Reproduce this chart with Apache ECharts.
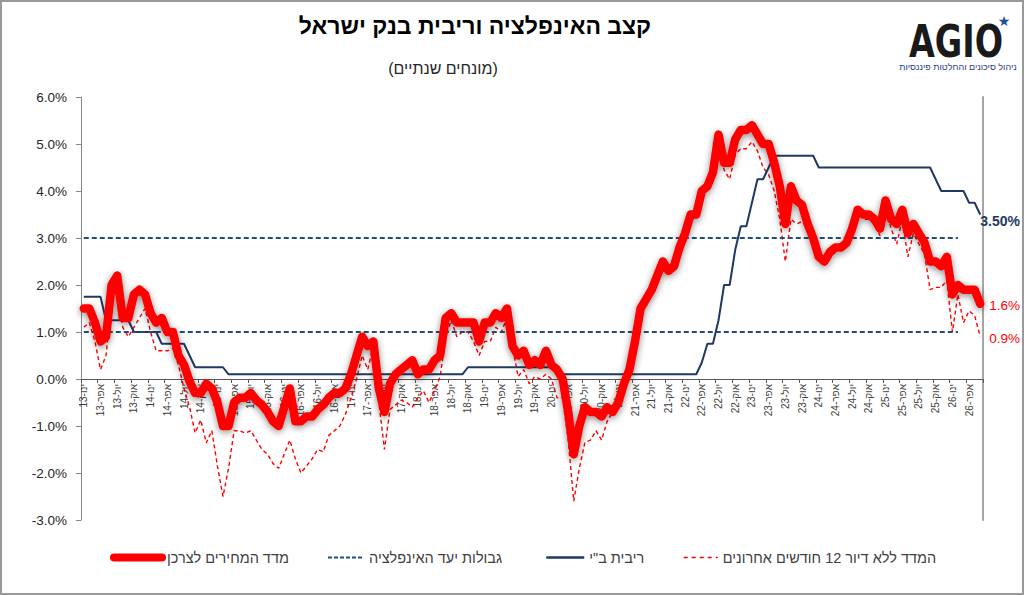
<!DOCTYPE html>
<html><head><meta charset="utf-8">
<script src="https://cdn.jsdelivr.net/npm/echarts@6/dist/echarts.min.js"></script>
<style>html,body{margin:0;padding:0;background:#fff}#c{width:1024px;height:595px}</style>
</head><body><div id="c"></div>
<script>
// ---- data ----
const monthNames = ['ינו','פבר','מרץ','אפר','מאי','יונ','יול','אוג','ספט','אוק','נוב','דצמ'];
const startYear = 13; // 2013

// CPI, yearly change (%), monthly Jan-2013 .. Jun-2026
const cpi = [
  1.5, 1.5, 1.2, 0.8, 0.9, 2.0, 2.2, 1.3, 1.3, 1.8, 1.9, 1.8,
  1.4, 1.2, 1.3, 1.0, 1.0, 0.5, 0.3, -0.05, -0.3, -0.3, -0.1, -0.2,
  -0.5, -1.0, -1.0, -0.5, -0.4, -0.4, -0.3, -0.45, -0.55, -0.7, -0.9, -1.0,
  -0.6, -0.2, -0.9, -0.9, -0.8, -0.8, -0.65, -0.55, -0.4, -0.3, -0.3, -0.2,
  0.1, 0.5, 0.9, 0.7, 0.8, -0.2, -0.7, -0.1, 0.1, 0.2, 0.3, 0.4,
  0.1, 0.2, 0.2, 0.4, 0.5, 1.3, 1.4, 1.2, 1.2, 1.2, 1.2, 0.8,
  1.2, 1.2, 1.4, 1.3, 1.5, 0.7, 0.5, 0.6, 0.3, 0.4, 0.3, 0.6,
  0.3, 0.2, 0.0, -0.7, -1.6, -1.0, -0.6, -0.7, -0.7, -0.8, -0.6, -0.7,
  -0.5, -0.1, 0.2, 0.8, 1.5, 1.7, 1.9, 2.2, 2.5, 2.3, 2.4, 2.8,
  3.1, 3.5, 3.5, 4.0, 4.1, 4.4, 5.2, 4.6, 4.6, 5.1, 5.3, 5.3,
  5.4, 5.2, 5.0, 5.0, 4.6, 4.1, 3.3, 4.1, 3.8, 3.7, 3.3, 3.0,
  2.6, 2.5, 2.7, 2.8, 2.8, 2.9, 3.2, 3.6, 3.5, 3.5, 3.4, 3.2,
  3.8, 3.4, 3.3, 3.6, 3.1, 3.3, 3.1, 2.9, 2.5, 2.5, 2.4, 2.6,
  1.8, 2.0, 1.9, 1.9, 1.9, 1.6
];

// CPI excluding housing, last 12 months (%)
const cpiExHousing = [
  1.1, 1.2, 0.8, 0.2, 0.5, 1.7, 1.9, 1.1, 0.9, 1.1, 1.3, 1.5,
  1.0, 0.6, 0.6, 0.6, 0.65, 0.3, -0.2, -0.6, -1.15, -0.87, -1.36, -1.1,
  -1.85, -2.5, -1.9, -1.1, -1.1, -1.15, -1.1, -1.3, -1.5, -1.6, -1.8, -1.9,
  -1.6, -1.3, -1.7, -2.0, -1.85, -1.7, -1.5, -1.55, -1.2, -1.1, -1.0, -0.75,
  -0.4, 0.0, 0.5, 0.2, 0.7, -0.5, -1.5, -0.65, -0.55, -0.45, -0.5, -0.6,
  -0.4, -0.25, -0.5, -0.25, 0.05, 0.9, 1.25, 0.9, 1.0, 1.0, 0.8, 0.5,
  0.8, 0.8, 1.1, 1.0, 1.3, 0.7, 0.05, 0.2, -0.1, 0.05, 0.0, 0.1,
  0.0, -0.4, -0.4, -1.3, -2.6, -1.9, -1.35, -1.3, -1.1, -1.3, -0.9, -0.7,
  -0.5, -0.2, 0.1, 0.8, 1.4, 1.7, 2.1, 2.3, 2.45, 2.3, 2.4, 2.65,
  3.0, 3.55, 3.5, 4.0, 4.2, 4.35, 5.0, 4.45, 4.25, 4.77, 4.9, 4.9,
  5.05, 4.85, 4.5, 4.35, 4.0, 3.4, 2.5, 3.4, 3.3, 3.35, 3.2, 2.9,
  2.6, 2.4, 2.6, 2.7, 2.8, 2.9, 3.35, 3.57, 3.4, 3.4, 3.3, 3.05,
  3.65, 3.2, 2.87, 3.4, 2.6, 3.1, 2.87, 2.65, 1.9, 1.95, 1.95, 2.1,
  1.0, 1.8, 1.2, 1.45, 1.35, 0.9
];

// Bank of Israel rate (%)
const boiRate = [
  1.75, 1.75, 1.75, 1.75, 1.25, 1.25, 1.25, 1.25, 1.25, 1.0, 1.0, 1.0,
  1.0, 1.0, 0.75, 0.75, 0.75, 0.75, 0.75, 0.5, 0.25, 0.25, 0.25, 0.25,
  0.25, 0.25, 0.1, 0.1, 0.1, 0.1, 0.1, 0.1, 0.1, 0.1, 0.1, 0.1,
  0.1, 0.1, 0.1, 0.1, 0.1, 0.1, 0.1, 0.1, 0.1, 0.1, 0.1, 0.1,
  0.1, 0.1, 0.1, 0.1, 0.1, 0.1, 0.1, 0.1, 0.1, 0.1, 0.1, 0.1,
  0.1, 0.1, 0.1, 0.1, 0.1, 0.1, 0.1, 0.1, 0.1, 0.25, 0.25, 0.25,
  0.25, 0.25, 0.25, 0.25, 0.25, 0.25, 0.25, 0.25, 0.25, 0.25, 0.25, 0.25,
  0.25, 0.25, 0.1, 0.1, 0.1, 0.1, 0.1, 0.1, 0.1, 0.1, 0.1, 0.1,
  0.1, 0.1, 0.1, 0.1, 0.1, 0.1, 0.1, 0.1, 0.1, 0.1, 0.1, 0.1,
  0.1, 0.1, 0.1, 0.35, 0.75, 0.75, 1.25, 2.0, 2.0, 2.75, 3.25, 3.25,
  3.75, 4.25, 4.25, 4.5, 4.75, 4.75, 4.75, 4.75, 4.75, 4.75, 4.75, 4.75,
  4.5, 4.5, 4.5, 4.5, 4.5, 4.5, 4.5, 4.5, 4.5, 4.5, 4.5, 4.5,
  4.5, 4.5, 4.5, 4.5, 4.5, 4.5, 4.5, 4.5, 4.5, 4.25, 4.0, 4.0,
  4.0, 4.0, 4.0, 3.75, 3.75, 3.5
];

// Inflation target band (%), drawn from first month to index targetEndIndex
const targetBand = [1, 3];
const targetEndIndex = 157;

const yAxisRange = [-3, 6];

const seriesNames = ['מדד המחירים לצרכן', 'גבולות יעד האינפלציה', 'ריבית ב"י', 'המדד ללא דיור 12 חודשים אחרונים'];

// ---- build ----
const categories = cpi.map((_, k) => monthNames[k % 12] + '-' + (startYear + Math.floor(k / 12)));

const chart = echarts.init(document.getElementById('c'), null, { renderer: 'svg' });
const FONT = 'Liberation Sans, Arial, sans-serif';
const RED = '#ff0000', NAVY = '#1f3864', BLUE_D = '#1f4e79';

const legendBase = (left, name, lineStyle, w) => ({
  show: true, orient: 'horizontal', padding: 0,
  left: left, top: 550, itemWidth: w, itemHeight: 14,
  itemGap: 0,
  textStyle: { fontFamily: FONT, fontSize: 14.5, color: '#404040' },
  data: [{ name: name, lineStyle: lineStyle, itemStyle: { opacity: 0 } }],
  selectedMode: false
});

chart.setOption({
  animation: false,
  backgroundColor: '#fff',
  textStyle: { fontFamily: FONT },
  grid: { left: 81, right: 41, top: 97, bottom: 75, containLabel: false },
  graphic: [
    { type: 'rect', shape: { x: 1, y: 1, width: 1022, height: 593 }, style: { fill: 'none', stroke: '#9a9a9a', lineWidth: 2 }, silent: true },
    { type: 'text', x: 475, y: 26, style: { text: 'קצב האינפלציה וריבית בנק ישראל', fontSize: 23, fontWeight: 'bold', fontFamily: FONT, fill: '#000', align: 'center', verticalAlign: 'middle' } },
    { type: 'text', x: 443, y: 68, style: { text: '(מונחים שנתיים)', fontSize: 16, fontFamily: FONT, fill: '#262626', align: 'center', verticalAlign: 'middle' } },
    { type: 'text', x: 956, y: 42, scaleX: 0.76, originX: 0, originY: 0, style: { text: 'AGIO', fontSize: 44, fontWeight: 'bold', fontFamily: 'DejaVu Sans, sans-serif', fill: '#1a1a1a', align: 'center', verticalAlign: 'middle' } },
    { type: 'text', x: 1004, y: 21, style: { text: '★', fontSize: 14, fontFamily: 'DejaVu Sans', fill: '#1f4ea0', align: 'center', verticalAlign: 'middle' } },
    { type: 'text', x: 958, y: 67, style: { text: 'ניהול סיכונים והחלטות פיננסיות', fontSize: 9, fontFamily: FONT, fill: '#1f3c88', align: 'center', verticalAlign: 'middle' } }
  ],
  legend: [
    legendBase(110, seriesNames[0], { color: RED, width: 8 }, 48),
    legendBase(327, seriesNames[1], { color: BLUE_D, width: 2, type: [4, 2] }, 36),
    legendBase(545, seriesNames[2], { color: NAVY, width: 2.5 }, 38),
    legendBase(683, seriesNames[3], { color: RED, width: 1.5, type: [4, 4] }, 34)
  ],
  xAxis: {
    type: 'category', data: categories, boundaryGap: true,
    position: 'bottom', offset: -141,
    axisLine: { onZero: false, lineStyle: { color: '#595959', width: 1 } },
    axisTick: { show: true, interval: 2, length: 4, lineStyle: { color: '#595959' } },
    axisLabel: { interval: 2, rotate: 90, fontSize: 10, color: '#404040', margin: 5, fontFamily: FONT },
    splitLine: { show: false }
  },
  yAxis: [{
    type: 'value', min: yAxisRange[0], max: yAxisRange[1], interval: 1,
    axisLine: { show: true, lineStyle: { color: '#868686', width: 1 } },
    axisTick: { show: true, length: 5, lineStyle: { color: '#868686' } },
    axisLabel: { formatter: v => v.toFixed(1) + '%', fontSize: 13.5, color: '#262626', margin: 14, fontFamily: FONT },
    splitLine: { show: false }
  }, {
    type: 'value', position: 'right', min: yAxisRange[0], max: yAxisRange[1], interval: 1,
    axisLine: { show: true, lineStyle: { color: '#a6a6a6', width: 2 } },
    axisTick: { show: false }, axisLabel: { show: false }, splitLine: { show: false }
  }],
  series: [
    {
      name: seriesNames[3], type: 'line', data: cpiExHousing, symbol: 'none', z: 2,
      lineStyle: { color: RED, width: 1.4, type: [4, 3] }, itemStyle: { color: RED },
      endLabel: { show: true, formatter: p => p.value.toFixed(1) + '%', color: RED, fontSize: 13.5, fontFamily: FONT, distance: 0, offset: [9, 2] }
    },
    {
      name: seriesNames[1], type: 'line', data: [], symbol: 'none', z: 3,
      lineStyle: { color: BLUE_D, width: 1.8, type: [5, 3] }, itemStyle: { color: BLUE_D },
      markLine: {
        silent: true, symbol: ['none', 'none'], label: { show: false },
        lineStyle: { color: BLUE_D, width: 1.8, type: [5, 3] },
        emphasis: { disabled: true },
        data: targetBand.map(v => [{ coord: [categories[0], v] }, { coord: [categories[targetEndIndex], v] }])
      }
    },
    {
      name: seriesNames[2], type: 'line', data: boiRate, symbol: 'none', z: 4,
      lineStyle: { color: NAVY, width: 2 }, itemStyle: { color: NAVY },
      endLabel: { show: true, formatter: p => p.value.toFixed(2) + '%', color: NAVY, fontSize: 14, fontWeight: 'bold', fontFamily: FONT, distance: 0, offset: [0, 6] }
    },
    {
      name: seriesNames[0], type: 'line', data: cpi, symbol: 'none', z: 5,
      lineStyle: { color: RED, width: 8.5, cap: 'round', join: 'round', shadowColor: 'rgba(0,0,0,0.45)', shadowBlur: 7, shadowOffsetY: 2 }, itemStyle: { color: RED },
      endLabel: { show: true, formatter: p => p.value.toFixed(1) + '%', color: RED, fontSize: 13.5, fontFamily: FONT, distance: 0, offset: [9, 2] }
    }
  ]
});
</script>
</body></html>
